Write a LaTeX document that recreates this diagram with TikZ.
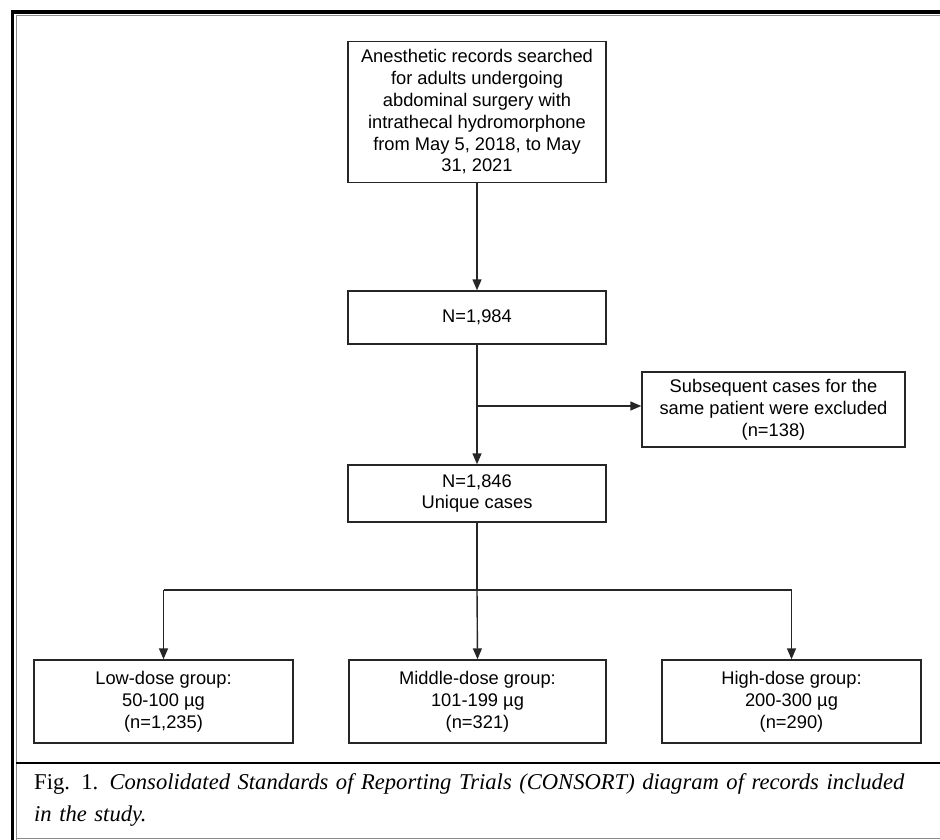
\documentclass[tikz,border=0pt]{standalone}
\usepackage{fontspec}
\setmainfont{Liberation Serif}
\setsansfont{Liberation Sans}
\usetikzlibrary{arrows.meta}
\definecolor{linec}{HTML}{262626}
\definecolor{framegray}{HTML}{8A8A8A}
\begin{document}
\begin{tikzpicture}[x=1pt,y=-1pt,
  box/.style={draw=linec, line width=1.4pt, rectangle, inner sep=0pt, align=center,
    font=\sffamily\fontsize{18.3}{21.8}\selectfont, text=black},
  conn/.style={draw=linec, line width=1.4pt, -{Triangle[length=11pt,width=9pt]}},
  plain/.style={draw=linec, line width=1.4pt}]
\useasboundingbox (0,0) rectangle (940,840);
% frame
\draw[black, line width=3.5pt] (940,11.8) -- (12.5,11.8) -- (12.5,840);
\draw[framegray, line width=1pt] (940,15.5) -- (16,15.5) -- (16,840);
\draw[black, line width=1.3pt] (16,763) -- (940,763);
\draw[framegray, line width=1pt] (16,838) -- (940,838);
% nodes
\node[box, minimum width=258pt, minimum height=141pt] (top) at (477,112)
  {Anesthetic records searched\\for adults undergoing\\abdominal surgery with\\intrathecal hydromorphone\\from May 5, 2018, to May\\31, 2021};
\node[box, minimum width=258pt, minimum height=53pt] (n1) at (477,317.5) {N=1,984};
\node[box, minimum width=263pt, minimum height=75pt] (ex) at (773.5,409.5)
  {Subsequent cases for the\\same patient were excluded\\(n=138)};
\node[box, minimum width=258pt, minimum height=57pt] (n2) at (477,493.5) {N=1,846\\Unique cases};
\node[box, minimum width=259pt, minimum height=83pt] (low) at (163.5,701.5)
  {Low-dose group:\\50-100 µg\\(n=1,235)};
\node[box, minimum width=257pt, minimum height=83pt] (mid) at (477.5,701.5)
  {Middle-dose group:\\101-199 µg\\(n=321)};
\node[box, minimum width=259pt, minimum height=83pt] (high) at (791.5,701.5)
  {High-dose group:\\200-300 µg\\(n=290)};
% connectors
\draw[conn] (top.south) -- (n1.north);
\coordinate (b1) at (477,406);
\draw[conn] (n1.south) -- (n2.north);
\draw[conn] (b1) -- (b1 -| ex.west);
\coordinate (b2) at (477,590);
\draw[plain] (n2.south) -- (b2);
\draw[plain] (b2 -| low.north) -- (b2 -| high.north);
\draw[conn] (b2 -| low.north) -- (low.north);
\draw[conn] (b2) -- (mid.north);
\draw[conn] (b2 -| high.north) -- (high.north);
% caption
\node[anchor=north west, inner sep=0pt, align=left, text width=890pt,
  font=\fontsize{22.6}{32}\selectfont] (cap) at (34,773)
  {Fig. 1. \textit{Consolidated Standards of Reporting Trials (CONSORT) diagram of records included}\\\textit{in the study.}};
\end{tikzpicture}
\end{document}
